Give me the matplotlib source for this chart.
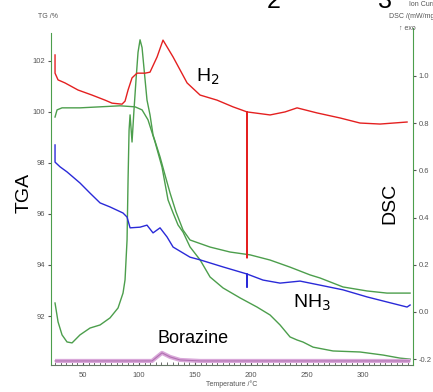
import numpy as np
import matplotlib
matplotlib.use('Agg')
from matplotlib import pyplot as plt

plt.rcParams['font.family'] = ['Liberation Sans', 'DejaVu Sans']

# TGA (left axis, %)
tga_t = [25, 26.8, 31.25, 47.3, 65.2, 83, 96.4, 102.7, 108, 114.3, 120.5, 125.9, 130.4, 134.8,
         139.3, 145.5, 154.5, 163.4, 175, 190.2, 205.4, 217, 225.9, 234.8, 241.1, 246.4, 255.4,
         273.2, 297.3, 317.9, 333, 342]
tga_v = [99.80, 100.08, 100.16, 100.16, 100.2, 100.24, 100.2, 100.08, 99.69, 98.82, 97.84, 96.55,
         96.04, 95.57, 95.29, 94.71, 94.2, 93.53, 93.1, 92.71, 92.35, 92.04, 91.65, 91.18, 91.06,
         90.98, 90.78, 90.63, 90.59, 90.47, 90.35, 90.31]

# DSC (right axis, mW/mg)
dsc_t = [25, 27.7, 31.25, 35.7, 40.2, 47.3, 56.25, 65.2, 74.1, 81.25, 85.7, 87.5, 89.3, 90.2, 91.1,
         92, 93.75, 95.5, 97.3, 99.1, 100.9, 102.7, 105.4, 107.1, 109.8, 112.5, 118.75, 123.2,
         127.7, 133, 139.3, 145.5, 163.4, 181.25, 199.1, 217, 234.8, 252.7, 261.6, 282.1, 303.6,
         321.4, 342]
dsc_v = [0.038, -0.042, -0.097, -0.127, -0.131, -0.097, -0.068, -0.055, -0.025, 0.017, 0.08, 0.136,
         0.305, 0.56, 0.77, 0.835, 0.72, 0.856, 0.983, 1.10, 1.153, 1.12, 0.983, 0.898, 0.835, 0.75,
         0.657, 0.58, 0.504, 0.424, 0.347, 0.305, 0.275, 0.254, 0.242, 0.22, 0.19, 0.157, 0.144,
         0.106, 0.089, 0.08, 0.08]

# ion currents (arbitrary units)
h2_t = [25, 25, 27.7, 33.9, 45.5, 58, 69.6, 75.9, 84.8, 87.5, 90.2, 93.75, 98.2, 105.4, 109.8,
        116.1, 121.4, 130.4, 142.9, 154.5, 169.6, 183.9, 196.4, 196.4, 196.4, 217, 230.4, 241.1,
        258.9, 279.5, 297.3, 315.2, 339.3]
h2_v = [92, 86.6, 84.6, 83.7, 81.6, 80.1, 78.6, 77.7, 77.4, 78.3, 81.6, 85.2, 86.6, 86.6, 86.9,
        91.4, 96.4, 91.4, 83.7, 80.1, 78.6, 76.6, 75.1, 31.8, 75.1, 74.2, 75.1, 76.3, 74.8, 73.3,
        71.8, 71.5, 72.1]

nh3_t = [25, 25, 29.5, 35.7, 47.3, 56.25, 65.2, 74.1, 85.7, 89.3, 92, 100.9, 107.1, 112.5, 118.75,
         125, 130.4, 145.5, 154.5, 175, 196.4, 196.4, 196.4, 210.7, 225.9, 234.8, 243.75, 261.6,
         282.1, 303.6, 321.4, 339.3, 342]
nh3_v = [65.3, 60.2, 58.8, 57.3, 54.0, 51.0, 48.1, 46.9, 45.1, 43.9, 40.7, 40.9, 41.5, 39.2, 40.7,
         38.0, 35.0, 32.0, 31.2, 29.1, 27.0, 23.1, 27.0, 25.2, 24.3, 24.6, 24.9, 23.7, 22.3, 20.2,
         18.7, 17.2, 17.8]

bor_t = [25, 111.6, 116, 120.5, 127.7, 136.6, 154.5, 342]
bor_v = [1.2, 1.2, 2.4, 3.6, 2.4, 1.5, 1.2, 1.2]

green = '#4c9e4c'
tick_col = '#555555'

fig = plt.figure(figsize=(4.33, 3.92), dpi=100)
ax1 = fig.add_axes([51/433, 27/392, 362/433, 337/392])
ax2 = ax1.twinx()
ax3 = ax1.twinx()

ax1.plot(tga_t, tga_v, color=green, lw=1)
ax2.plot(dsc_t, dsc_v, color=green, lw=1)
ax3.plot(bor_t, bor_v, color='#d9a8d9', lw=3, solid_capstyle='butt')
ax3.plot(bor_t, bor_v, color='#b070b0', lw=0.8)
ax3.plot(nh3_t, nh3_v, color='#2a2ad8', lw=1)
ax3.plot(h2_t, h2_v, color='#e42020', lw=1)

ax1.set_xlim(21.4, 344.6)
ax1.set_ylim(90.08, 103.29)
ax2.set_ylim(-0.2246, 1.203)
ax3.set_ylim(0, 100)

ax1.set_xticks([50, 100, 150, 200, 250, 300])
ax1.set_xticks(np.arange(25, 345, 5), minor=True)
ax1.set_yticks([92, 94, 96, 98, 100, 102])
ax2.set_yticks([-0.2, 0.0, 0.2, 0.4, 0.6, 0.8, 1.0])
ax2.set_yticklabels(['-0.2', '0.0', '0.2', '0.4', '0.6', '0.8', '1.0'])

ax1.tick_params(axis='x', which='both', direction='in', length=3, labelsize=5.5,
                colors=tick_col, pad=5)
ax1.tick_params(axis='x', which='minor', length=2)
ax1.tick_params(axis='y', direction='out', length=2, labelsize=5.5, colors=tick_col, pad=2)
ax2.tick_params(axis='y', direction='out', length=2, labelsize=5.5, colors=tick_col, pad=2)
ax3.set_yticks([])

for a in (ax1, ax2, ax3):
    a.spines['top'].set_visible(False)
ax1.spines['left'].set_color(green)
ax1.spines['left'].set_bounds(90.08, 103.1)
ax1.spines['right'].set_visible(False)
ax1.spines['bottom'].set_color('#667766')
ax2.spines['right'].set_color(green)
ax2.spines['left'].set_visible(False)
ax2.spines['bottom'].set_visible(False)
for s in ax3.spines.values():
    s.set_visible(False)

ax1.text(-0.075, 0.51, 'TGA', transform=ax1.transAxes, rotation=90, fontsize=14,
         ha='center', va='center')
ax1.text(0.935, 0.478, 'DSC', transform=ax1.transAxes, rotation=90, fontsize=14,
         ha='center', va='center')
ax1.text(0.4, 0.84, 'H$_2$', transform=ax1.transAxes, fontsize=14, ha='left', va='baseline')
ax1.text(0.668, 0.169, 'NH$_3$', transform=ax1.transAxes, fontsize=14, ha='left', va='baseline')
ax1.text(0.293, 0.065, 'Borazine', transform=ax1.transAxes, fontsize=13, ha='left',
         va='baseline')

fig.text(38/433, 1 - 17/392, 'TG /%', fontsize=5, color=tick_col, va='center')
fig.text(409/433, 1 - 5/392, 'Ion Current', fontsize=5, color=tick_col, va='center')
fig.text(389/433, 1 - 17/392, 'DSC /(mW/mg)', fontsize=5, color=tick_col, va='center')
fig.text(399/433, 1 - 28/392, '\u2191 exo', fontsize=5, color=tick_col, va='center')
fig.text(0.535, 1 - 384/392, 'Temperature /\u00b0C', fontsize=5, color=tick_col,
         ha='center', va='center')

# cut-off subscripts of a heading above the chart
fig.text(267/433, 1 - 8/392, '2', fontsize=18, va='baseline')
fig.text(378/433, 1 - 8/392, '3', fontsize=18, va='baseline')

fig.savefig('out.png', dpi=100)
